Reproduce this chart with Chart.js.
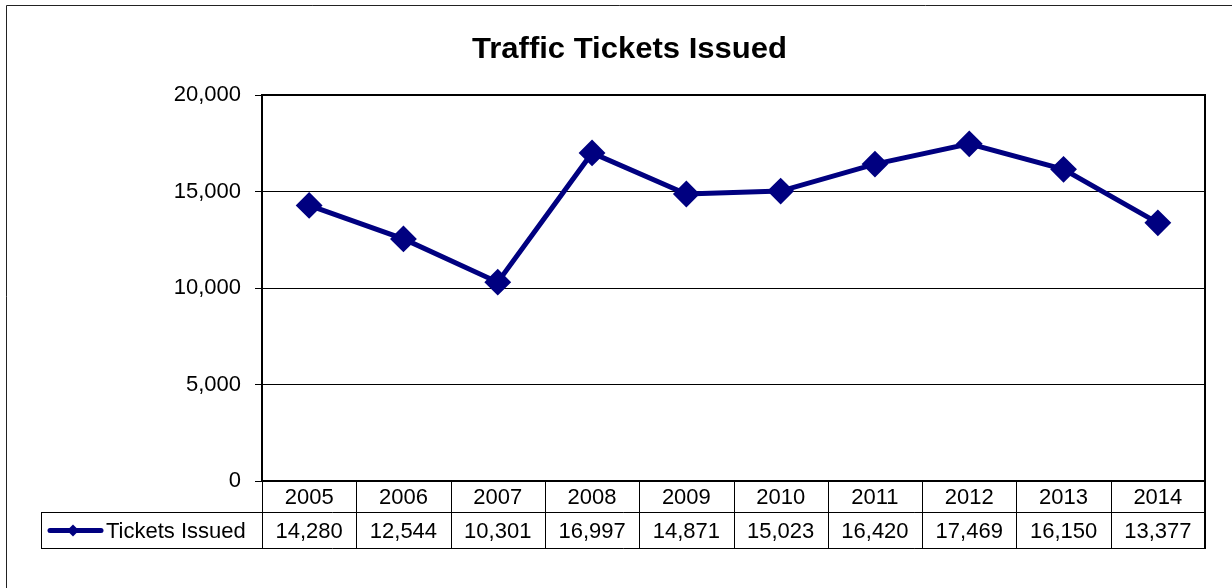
<!DOCTYPE html>
<html>
<head>
<meta charset="utf-8">
<script src="https://cdn.jsdelivr.net/npm/chart.js@4.4.1/dist/chart.umd.min.js"></script>
<style>
  html, body { margin: 0; padding: 0; background: #fff; }
  #wrap { width: 1232px; height: 588px; position: relative; }
</style>
</head>
<body>
<div id="wrap"><canvas id="c" width="1232" height="588"></canvas></div>
<script>
const chartTitle = 'Traffic Tickets Issued';
const seriesName = 'Tickets Issued';
const years = ['2005', '2006', '2007', '2008', '2009', '2010', '2011', '2012', '2013', '2014'];
const tickets = [14280, 12544, 10301, 16997, 14871, 15023, 16420, 17469, 16150, 13377];
const yTicks = [0, 5000, 10000, 15000, 20000];

const NAVY = '#000080';
const FONT = '"Liberation Sans", Arial, sans-serif';
const fmt = v => v.toLocaleString('en-US');

const framePlugin = {
  id: 'frameAndTable',
  beforeDraw(chart) {
    const ctx = chart.ctx;
    ctx.save();
    ctx.fillStyle = '#fff';
    ctx.fillRect(0, 0, chart.width, chart.height);
    // outer frame
    ctx.strokeStyle = '#222';
    ctx.lineWidth = 1;
    ctx.beginPath();
    ctx.moveTo(6.5, 588);
    ctx.lineTo(6.5, 5.5);
    ctx.lineTo(1232, 5.5);
    ctx.stroke();
    ctx.restore();
  },
  afterDraw(chart) {
    const ctx = chart.ctx;
    const a = chart.chartArea;
    const xs = chart.scales.x;
    const n = years.length;
    const colW = (a.right - a.left) / n;
    const rowTop = a.bottom, rowMid = a.bottom + 31, rowBot = a.bottom + 68;
    const legLeft = 41;
    ctx.save();
    // title
    ctx.save();
    ctx.fillStyle = '#000';
    ctx.font = 'bold 29px ' + FONT;
    ctx.textAlign = 'center';
    ctx.textBaseline = 'alphabetic';
    ctx.translate(629.5, 58);
    ctx.scale(1.07, 1);
    ctx.fillText(chartTitle, 0, 0);
    ctx.restore();
    // plot frame (top/right/bottom)
    ctx.strokeStyle = '#000';
    ctx.lineWidth = 2;
    ctx.beginPath();
    ctx.moveTo(a.left, a.top);
    ctx.lineTo(a.right, a.top);
    ctx.lineTo(a.right, rowBot);
    ctx.moveTo(a.left - 1, a.bottom);
    ctx.lineTo(a.right, a.bottom);
    ctx.stroke();
    // table lines
    ctx.lineWidth = 1;
    ctx.beginPath();
    for (let i = 0; i < n; i++) {
      const x = Math.round(a.left + i * colW) + 0.5;
      ctx.moveTo(x, rowTop);
      ctx.lineTo(x, rowBot);
    }
    ctx.moveTo(legLeft + 0.5, rowMid + 0.5);
    ctx.lineTo(a.right, rowMid + 0.5);
    ctx.moveTo(legLeft + 0.5, rowBot - 0.5);
    ctx.lineTo(a.right, rowBot - 0.5);
    ctx.moveTo(legLeft + 0.5, rowMid);
    ctx.lineTo(legLeft + 0.5, rowBot);
    ctx.stroke();
    // table texts
    ctx.fillStyle = '#000';
    ctx.font = '22px ' + FONT;
    ctx.textAlign = 'center';
    ctx.textBaseline = 'middle';
    for (let i = 0; i < n; i++) {
      const cx = xs.getPixelForValue(i);
      ctx.fillText(years[i], cx, (rowTop + rowMid) / 2 + 1);
      ctx.fillText(fmt(tickets[i]), cx, (rowMid + rowBot) / 2 + 1);
    }
    // legend key
    const ly = (rowMid + rowBot) / 2;
    ctx.strokeStyle = NAVY;
    ctx.lineWidth = 5;
    ctx.lineCap = 'round';
    ctx.beginPath();
    ctx.moveTo(50, ly);
    ctx.lineTo(101, ly);
    ctx.stroke();
    ctx.fillStyle = NAVY;
    ctx.beginPath();
    ctx.moveTo(73, ly - 6);
    ctx.lineTo(79, ly);
    ctx.lineTo(73, ly + 6);
    ctx.lineTo(67, ly);
    ctx.closePath();
    ctx.fill();
    ctx.fillStyle = '#000';
    ctx.textAlign = 'left';
    ctx.fillText(seriesName, 106, ly + 1);
    ctx.restore();
  }
};

new Chart(document.getElementById('c'), {
  type: 'line',
  data: {
    labels: years,
    datasets: [{
      label: seriesName,
      data: tickets,
      borderColor: NAVY,
      backgroundColor: NAVY,
      borderWidth: 5,
      pointStyle: 'rectRot',
      pointRadius: 12,
      pointHoverRadius: 12,
      pointBorderWidth: 2,
      pointBackgroundColor: NAVY,
      pointBorderColor: NAVY,
      tension: 0,
      clip: false
    }]
  },
  options: {
    responsive: false,
    animation: false,
    events: [],
    layout: { padding: { left: 0, top: 95, right: 27, bottom: 107 } },
    plugins: {
      legend: { display: false },
      title: { display: false },
      tooltip: { enabled: false }
    },
    scales: {
      x: {
        type: 'category',
        offset: true,
        display: false
      },
      y: {
        min: 0,
        max: 20000,
        afterFit(scale) { scale.width = 262; },
        afterBuildTicks(scale) { scale.ticks = yTicks.map(v => ({ value: v })); },
        ticks: {
          color: '#000',
          font: { family: FONT, size: 22 },
          padding: 14,
          callback: v => fmt(v)
        },
        grid: {
          color: '#000',
          lineWidth: 1,
          tickLength: 7,
          drawTicks: true
        },
        border: { display: true, color: '#000', width: 2 }
      }
    }
  },
  plugins: [framePlugin]
});
</script>
</body>
</html>
